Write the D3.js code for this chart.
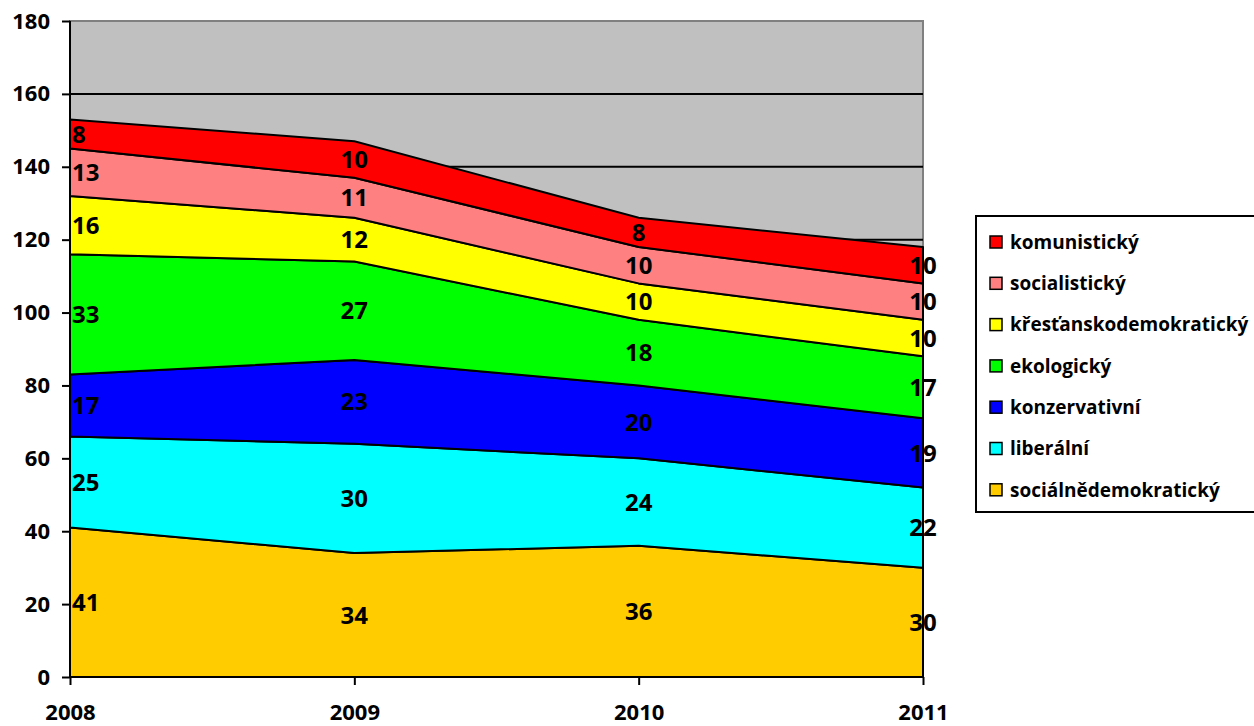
<!DOCTYPE html>
<html>
<head>
<meta charset="utf-8">
<script src="https://cdn.jsdelivr.net/npm/d3@7"></script>
<style>
  body { margin: 0; background: #fff; }
  svg text { font-family: "Open Sans", Lato, sans-serif; font-weight: bold; fill: #000; }
</style>
</head>
<body>
<svg id="chart" width="1254" height="726"></svg>
<script>
  // data
  const years = ["2008", "2009", "2010", "2011"];
  const series = [
    "sociálnědemokratický", "liberální", "konzervativní", "ekologický",
    "křesťanskodemokratický", "socialistický", "komunistický"
  ];
  const socialDem = [41, 34, 36, 30];
  const liberal = [25, 30, 24, 22];
  const conserv = [17, 23, 20, 19];
  const ecolog = [33, 27, 18, 17];
  const christDem = [16, 12, 10, 10];
  const socialist = [13, 11, 10, 10];
  const communist = [8, 10, 8, 10];
  const colors = ["#FFCC00", "#00FFFF", "#0000FF", "#00FF00", "#FFFF00", "#FF8080", "#FF0000"];
  const yTicks = [0, 20, 40, 60, 80, 100, 120, 140, 160, 180];

  const values = [socialDem, liberal, conserv, ecolog, christDem, socialist, communist];
  const rows = years.map((yr, i) => {
    const r = { year: yr };
    series.forEach((s, k) => r[s] = values[k][i]);
    return r;
  });

  const svg = d3.select("#chart");
  const plotL = 70, plotR = 923, plotT = 21, plotB = 677;

  const x = d3.scalePoint().domain(years).range([plotL, plotR]);
  const y = d3.scaleLinear().domain([0, 180]).range([plotB, plotT]);

  // plot background
  svg.append("rect")
    .attr("x", plotL).attr("y", plotT)
    .attr("width", plotR - plotL).attr("height", plotB - plotT)
    .attr("fill", "#C0C0C0")
    .attr("stroke", "#808080").attr("stroke-width", 2);

  // gridlines
  svg.append("g").selectAll("line")
    .data(yTicks.filter(t => t > 0 && t < 180))
    .enter().append("line")
    .attr("x1", plotL).attr("x2", plotR)
    .attr("y1", d => y(d)).attr("y2", d => y(d))
    .attr("stroke", "#000").attr("stroke-width", 2);

  const stack = d3.stack().keys(series);
  const layers = stack(rows);

  const area = d3.area()
    .x(d => x(d.data.year))
    .y0(d => y(d[0]))
    .y1(d => y(d[1]));

  svg.append("g").selectAll("path")
    .data(layers)
    .enter().append("path")
    .attr("d", area)
    .attr("fill", (d, i) => colors[i])
    .attr("stroke", "#000")
    .attr("stroke-width", 2)
    .attr("stroke-linejoin", "round");

  // data labels
  const lbl = svg.append("g").style("font-size", "24px");
  layers.forEach(layer => {
    layer.forEach((d, i) => {
      const first = i === 0;
      lbl.append("text")
        .attr("x", first ? x(d.data.year) + 2 : x(d.data.year))
        .attr("y", y((d[0] + d[1]) / 2))
        .attr("dy", "0.36em")
        .attr("text-anchor", first ? "start" : "middle")
        .text(d[1] - d[0]);
    });
  });

  // y axis
  const yAxis = svg.append("g")
    .attr("transform", `translate(${plotL},0)`)
    .call(d3.axisLeft(y).tickValues(yTicks).tickSize(8).tickPadding(12));
  yAxis.selectAll("line, path").attr("stroke", "#000").attr("stroke-width", 2);
  yAxis.select("path").attr("d", `M0,${plotT}V${plotB}`);
  yAxis.selectAll("text").style("font-size", "22px").attr("font-family", null);

  // x axis
  const xAxis = svg.append("g")
    .attr("transform", `translate(0,${plotB})`)
    .call(d3.axisBottom(x).tickSize(8).tickPadding(19));
  xAxis.selectAll("line, path").attr("stroke", "#000").attr("stroke-width", 2);
  xAxis.select("path").attr("d", `M${plotL},0H${plotR}`);
  xAxis.selectAll("text").style("font-size", "22px").attr("font-family", null);

  // legend
  const legend = svg.append("g");
  legend.append("rect")
    .attr("x", 976).attr("y", 216)
    .attr("width", 290).attr("height", 296)
    .attr("fill", "#fff").attr("stroke", "#000").attr("stroke-width", 2);
  const order = series.slice().reverse();
  order.forEach((s, i) => {
    const cy = 242 + i * 41.3;
    legend.append("rect")
      .attr("x", 990).attr("y", cy - 6)
      .attr("width", 12).attr("height", 12)
      .attr("fill", colors[series.indexOf(s)])
      .attr("stroke", "#000").attr("stroke-width", 1.5);
    legend.append("text")
      .attr("x", 1010).attr("y", cy)
      .attr("dy", "0.36em")
      .style("font-size", "19px")
      .text(s);
  });
</script>
</body>
</html>
